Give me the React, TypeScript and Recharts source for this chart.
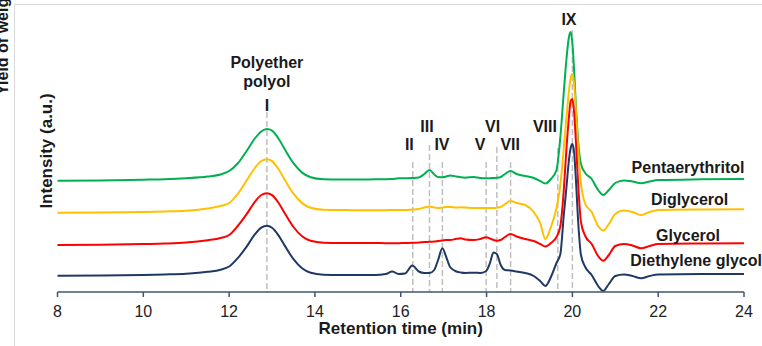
import { LineChart, Line, XAxis, YAxis, ReferenceLine, ReferenceDot, Label } from 'recharts';

const FONT = '"Liberation Sans", Arial, sans-serif';

// retention time (min)
const times = [
  8, 9, 10, 10.5, 11, 11.5, 11.8, 12.0, 12.2, 12.4, 12.6, 12.75, 12.88, 13.0, 13.15, 13.3, 13.5, 13.7, 13.9, 14.2,
  14.6, 15.0, 15.4, 15.65, 15.8, 15.95, 16.1, 16.27, 16.42, 16.55, 16.67, 16.78, 16.87, 16.97, 17.06, 17.15, 17.3,
  17.4, 17.5, 17.7, 17.85, 17.99, 18.08, 18.16, 18.24, 18.33, 18.43, 18.56, 18.7, 18.9, 19.1, 19.25, 19.37, 19.5,
  19.63, 19.72, 19.8, 19.86, 19.92, 19.96, 20.0, 20.04, 20.08, 20.14, 20.2, 20.3, 20.45, 20.6, 20.72, 20.85, 21.0,
  21.2, 21.4, 21.6, 21.8, 22.0, 23.0, 24.0,
];

// stacked traces, intensity in a.u. (offset already applied)
const pentaerythritol = [
  111.3, 111.5, 112.3, 112.8, 113.8, 115.5, 117.5, 121, 128.5, 140.5, 153.5, 160.5, 163, 161.4, 153.5, 142.5, 128.8,
  119.4, 114.8, 112.8, 112.5, 112.5, 112.7, 112.8, 113, 113.7, 113.8, 114, 114.5, 118, 122, 117.5, 115, 114.8, 115.5,
  116.5, 115.5, 114.7, 114.3, 115, 114, 113.8, 113.8, 114, 114.2, 115, 118, 121, 118, 116, 114, 111, 108.5, 113, 122,
  155, 200, 232, 255, 260, 249, 222, 188, 148, 128, 119, 113, 102, 97, 102, 109, 111.5, 110.5, 108.7, 110.5, 112,
  112.7, 113,
];
const diglycerol = [
  79.3, 79.5, 80, 80.5, 81.3, 83.5, 86, 89, 98, 111, 124, 131, 132.7, 130.9, 123, 112, 98.3, 88.9, 84.3, 82.3, 82,
  81.7, 81.7, 81.8, 82, 82, 82, 82.5, 83, 84.5, 85.5, 84.5, 84, 84.5, 85, 85, 84.5, 84.7, 84.5, 84, 84, 84, 84, 84,
  84.3, 85, 88, 91, 89, 87, 80, 69, 53, 65, 84, 107, 144, 174, 201, 214, 218, 208, 183, 139, 109, 88, 80, 66, 61.5,
  68, 78, 81.5, 80, 77, 80, 82, 82.5, 82.7,
];
const glycerol = [
  47, 47.2, 48, 48.5, 49.5, 51.8, 54, 57, 66, 77.3, 90.2, 97, 98.7, 96.9, 89.3, 78.5, 65, 55.8, 51.2, 49.3, 49, 49,
  49, 48.8, 48.8, 48.8, 49, 49.2, 49.5, 50, 50.2, 50.5, 51, 51.5, 52, 52, 53.2, 53.7, 52.5, 52, 53, 54.7, 53.5, 52,
  51.3, 52, 55, 58, 55.5, 53, 51, 48, 45.5, 49, 55, 66, 102, 142, 175, 191, 193, 180, 152, 104, 70, 56, 48, 36, 31.3,
  37, 46, 48, 46.5, 43.7, 46, 48, 48.5, 48.7,
];
const diethyleneGlycol = [
  16.3, 16.5, 17, 17.5, 18.3, 20.2, 22.3, 25.5, 33.8, 44.9, 57.6, 64.3, 66.3, 64.2, 56.7, 46.1, 32.8, 23.7, 19.2, 17.3,
  17, 17, 17, 18, 20.5, 18, 18.5, 26.5, 20.5, 19, 19, 22, 32, 43.7, 35, 25, 20.5, 19.5, 19, 19.3, 19, 21, 29, 39.5, 38,
  27, 22, 21.5, 20.5, 19, 16, 11, 6, 15, 29, 38, 77, 104, 132, 144, 148, 140, 114, 67, 37, 25, 17, 6, 1, 8, 16, 17.5,
  16, 13.7, 16, 17.5, 18, 18,
];

const xTicks = [8, 10, 12, 14, 16, 18, 20, 22, 24];

// dashed guides: retention time and the intensity where the guide begins
const peakLines = [
  { t: 12.88, top: 180 },
  { t: 16.28, top: 130 },
  { t: 16.67, top: 147 },
  { t: 16.97, top: 130 },
  { t: 17.99, top: 130 },
  { t: 18.24, top: 145 },
  { t: 18.56, top: 130 },
  { t: 19.66, top: 144 },
  { t: 20.0, top: 262 },
];

const peakLabels = [
  { text: 'Polyether', t: 12.88, v: 223.7 },
  { text: 'polyol', t: 12.88, v: 205.3 },
  { text: 'I', t: 12.88, v: 181.3 },
  { text: 'II', t: 16.2, v: 142 },
  { text: 'III', t: 16.61, v: 160.3 },
  { text: 'IV', t: 16.96, v: 142 },
  { text: 'V', t: 17.85, v: 142 },
  { text: 'VI', t: 18.14, v: 160.3 },
  { text: 'VII', t: 18.55, v: 142 },
  { text: 'VIII', t: 19.36, v: 160.3 },
  { text: 'IX', t: 19.92, v: 267 },
];

const seriesNames = [
  { text: 'Pentaerythritol', t: 21.38, v: 119.3 },
  { text: 'Diglycerol', t: 21.83, v: 87 },
  { text: 'Glycerol', t: 21.95, v: 51.3 },
  { text: 'Diethylene glycol', t: 21.35, v: 26.3 },
];

const data = times.map((t, i) => ({
  t,
  pe: pentaerythritol[i],
  dg: diglycerol[i],
  gl: glycerol[i],
  deg: diethyleneGlycol[i],
}));

const textShape = (text: string, anchor: 'middle' | 'start') => (p: any) => (
  <text x={p.cx} y={p.cy} textAnchor={anchor} fontFamily={FONT} fontSize={16} fontWeight={700} fill="#1a1a1a">
    {text}
  </text>
);

export default function App() {
  return (
    <div style={{ position: 'absolute', left: 0, top: 0, width: 762, height: 346, background: '#fff' }}>
      <div
        style={{
          position: 'absolute',
          left: 14,
          top: 4,
          right: 0,
          bottom: 0,
          borderLeft: '1px solid #d9d9d9',
          borderTop: '1px solid #d9d9d9',
        }}
      />
      <div style={{ position: 'absolute', left: 0, top: 0 }}>
        <LineChart width={762} height={346} data={data} margin={{ top: 10, right: 18, bottom: 8, left: 7.5 }}>
          <XAxis
            dataKey="t"
            type="number"
            domain={[8, 24]}
            ticks={xTicks}
            height={46}
            tickSize={5}
            tickMargin={9}
            axisLine={{ stroke: '#44546A', strokeWidth: 1.5 }}
            tickLine={{ stroke: '#44546A', strokeWidth: 1.5 }}
            tick={{ fill: '#222', fontSize: 16, fontFamily: FONT }}
          >
            <Label
              value="Retention time (min)"
              position="insideBottom"
              offset={4}
              style={{ fontFamily: FONT, fontSize: 17, fontWeight: 700, fill: '#1a1a1a' }}
            />
          </XAxis>
          <YAxis
            domain={[0, 282]}
            allowDataOverflow
            width={50}
            tick={false}
            axisLine={false}
            tickLine={false}
          >
            <Label
              content={({ viewBox }: any) => {
                const cx = viewBox.x + 39;
                const cy = viewBox.y + viewBox.height / 2;
                return (
                  <g>
                    <text
                      x={cx}
                      y={cy}
                      transform={`rotate(-90 ${cx} ${cy})`}
                      textAnchor="middle"
                      dominantBaseline="central"
                      fontFamily={FONT}
                      fontSize={17}
                      fontWeight={700}
                      fill="#1a1a1a"
                    >
                      Intensity (a.u.)
                    </text>
                    <text
                      x={8}
                      y={95}
                      transform="rotate(-90 8 95)"
                      textAnchor="start"
                      fontFamily={FONT}
                      fontSize={16}
                      fontWeight={700}
                      fill="#1a1a1a"
                    >
                      Yield of weight fraction
                    </text>
                  </g>
                );
              }}
            />
          </YAxis>
          {peakLines.map((p) => (
            <ReferenceLine
              key={p.t}
              segment={[
                { x: p.t, y: p.top },
                { x: p.t, y: 0 },
              ]}
              stroke="#BFBFBF"
              strokeWidth={1.5}
              strokeDasharray="6 3"
            />
          ))}
          <Line dataKey="pe" type="monotone" stroke="#00B050" strokeWidth={2} dot={false} isAnimationActive={false} />
          <Line dataKey="dg" type="monotone" stroke="#FFC000" strokeWidth={2} dot={false} isAnimationActive={false} />
          <Line dataKey="gl" type="monotone" stroke="#FF0000" strokeWidth={2} dot={false} isAnimationActive={false} />
          <Line dataKey="deg" type="monotone" stroke="#203864" strokeWidth={2} dot={false} isAnimationActive={false} />
          {peakLabels.map((p) => (
            <ReferenceDot
              key={p.text}
              x={p.t}
              y={p.v}
              r={0}
              ifOverflow="visible"
              shape={textShape(p.text, 'middle')}
            />
          ))}
          {seriesNames.map((p) => (
            <ReferenceDot
              key={p.text}
              x={p.t}
              y={p.v}
              r={0}
              ifOverflow="visible"
              shape={textShape(p.text, 'start')}
            />
          ))}
        </LineChart>
      </div>
    </div>
  );
}
